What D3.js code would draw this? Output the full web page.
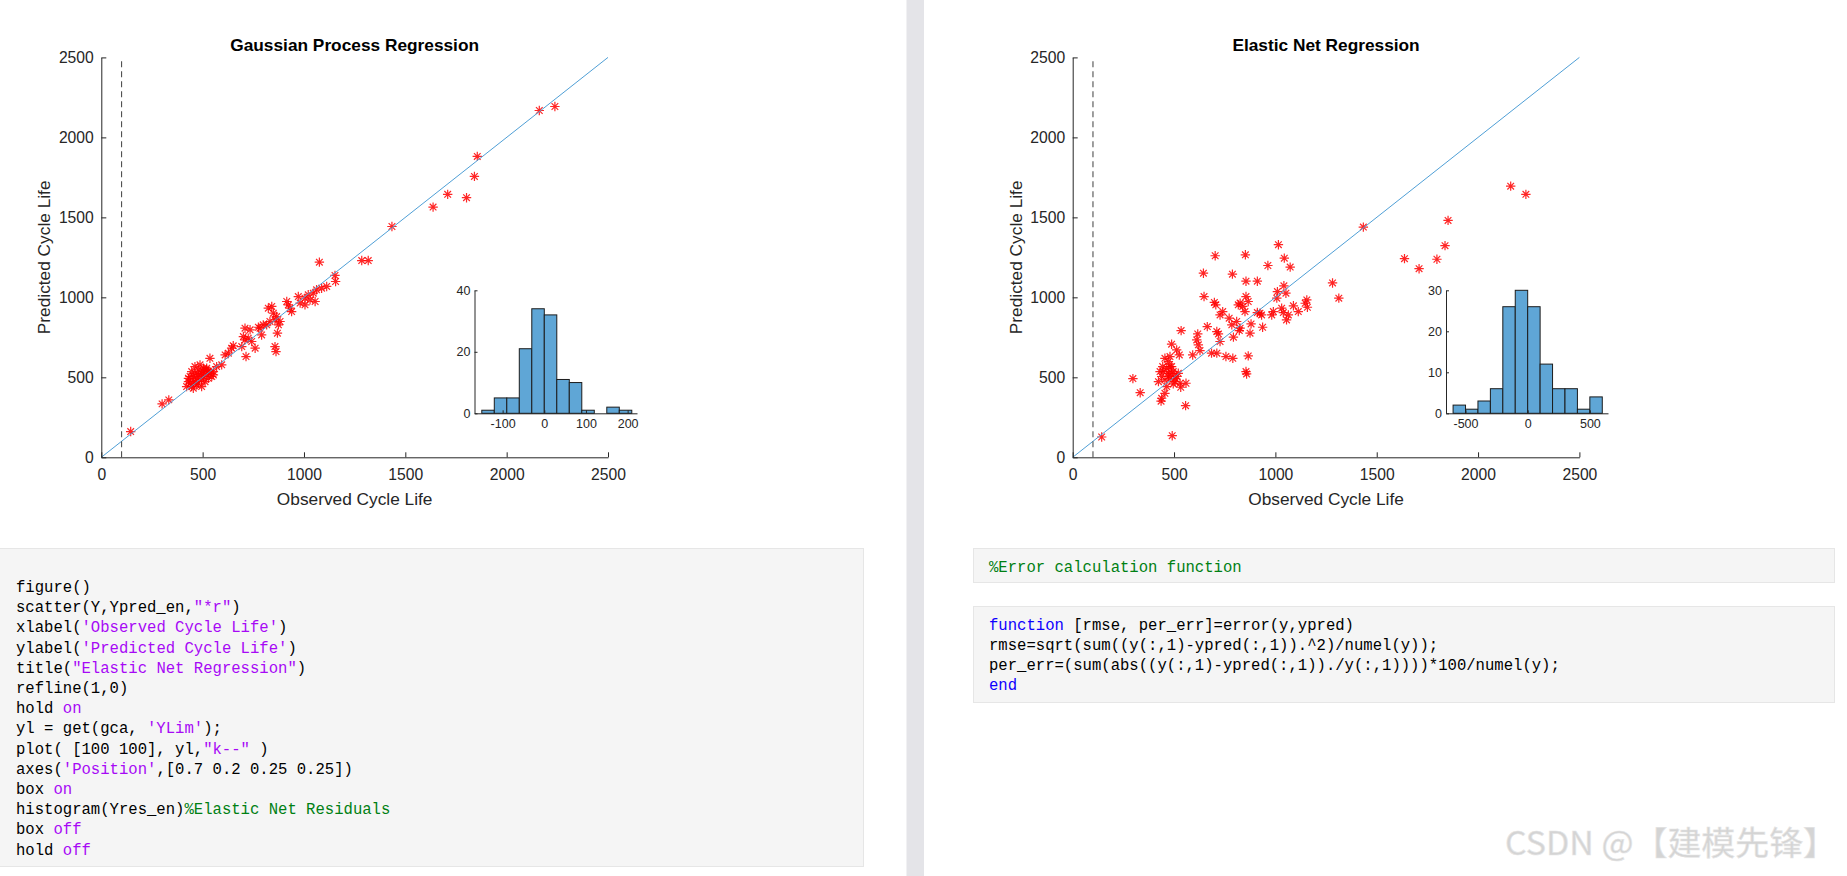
<!DOCTYPE html>
<html><head><meta charset="utf-8">
<script src="https://cdn.jsdelivr.net/npm/d3@7/dist/d3.min.js"></script>
<style>
html,body{margin:0;padding:0;background:#fff;}
svg{display:block;}
.code{white-space:pre;}
</style></head>
<body>
<svg id="chart" width="1847" height="876"></svg>
<script>
// ---------------- DATA ----------------
const axisTicks = [0, 500, 1000, 1500, 2000, 2500];
const gprTitle = "Gaussian Process Regression";
const enTitle = "Elastic Net Regression";
const xLabel = "Observed Cycle Life";
const yLabel = "Predicted Cycle Life";

// Gaussian Process Regression: [observed, predicted]
const gprPoints = [
  [145,161],[300,334],[333,359],[1434,1443],[1637,1564],[1709,1644],[1802,1623],[1841,1756],[1855,1881],
  [2161,2168],[2238,2193],[1076,1220],[1285,1230],[1317,1230],
  [1153,1137],[1156,1099],[1112,1068],[1062,1047],[1046,1026],[1021,1016],[1005,995],[1030,984],[1055,974],
  [1005,953],[981,964],[972,1005],[1087,1057],[915,974],[923,953],[939,911],[931,932],[824,932],[841,943],
  [849,901],[865,880],[882,849],[857,859],[874,828],[869,776],[857,692],[862,661],[832,849],[816,828],
  [799,828],[783,807],[775,813],[791,765],[734,797],[709,807],[701,755],[709,734],[725,745],[742,724],
  [759,682],[714,630],[693,692],[651,697],[643,682],[627,651],[611,640],[594,578],[536,619],[569,567],
  [553,536],[520,557],
  [438,505],[430,473],[446,442],[454,473],[462,525],[471,494],[479,546],[479,463],[487,515],[495,484],
  [504,536],[504,505],[512,473],[520,515],[528,494],[536,525],[462,567],[487,578],[438,463],[421,442],
  [454,432],[471,452],[495,525],[446,536],[504,557],[520,546],[545,505],[553,515],[479,515],[454,505],
  [430,494],[495,442],[512,546],[528,536],[462,473]
];

// Elastic Net Regression: [observed, predicted]
const enPoints = [
  [143,127],[491,135],[297,492],[333,404],[557,323],[436,351],[1434,1439],[1637,1242],[1709,1179],
  [1797,1238],[1837,1323],[1852,1481],[2161,1695],[2236,1644],[1282,1090],[1313,995],
  [1015,1329],[1044,1245],[1073,1189],[963,1199],[852,1266],[703,1260],[645,1151],[788,1145],[855,1101],
  [911,1101],[1042,1072],[1010,1036],[1052,1026],[1007,995],[648,1005],[699,968],[706,953],[826,964],
  [855,1005],[866,974],[839,943],[850,911],[817,953],[740,911],[727,890],[772,870],[809,849],[785,828],
  [924,901],[932,890],[911,905],[990,911],[982,890],[1031,932],[1039,905],[1064,890],[1089,947],[1113,911],
  [1155,984],[1147,963],[1158,938],[1055,859],[880,834],[937,813],[826,807],[875,776],[822,792],[793,751],
  [664,817],[711,786],[719,771],[727,724],[617,771],[612,734],[620,703],[535,792],[488,707],[513,671],
  [526,640],[592,640],[628,667],[685,651],[711,651],[756,630],[790,619],[866,634],[855,536],[858,521],
  [455,619],[472,598],[480,630],[444,567],[464,557],[488,567],[439,505],[472,525],[496,536],[455,484],
  [480,494],[423,473],[505,494],[521,525],[530,463],[533,438],[559,463],[496,459],[464,442],[455,400],
  [439,369],[505,473],[480,567],[472,505],[513,505],[447,536],[488,525],[431,536]
];

// Residual histograms (bin edges and counts)
const gprBinEdges = [-150,-120,-90,-60,-30,0,30,60,90,120,150,180,210];
const gprCounts   = [1,5,5,21,34,32,11,10,1,0,2,1];
const gprHistXTicks = [-100,0,100,200];
const gprHistYTicks = [0,20,40];

const enBinEdges = [-600,-500,-400,-300,-200,-100,0,100,200,300,400,500,600];
const enCounts   = [2,1,3,6,26,30,26,12,6,6,1,4];
const enHistXTicks = [-500,0,500];
const enHistYTicks = [0,10,20,30];

// Code text: lines of [text, kind]
const leftCode = [
  [["figure()","n"]],
  [["scatter(Y,Ypred_en,","n"],["\"*r\"","s"],[")","n"]],
  [["xlabel(","n"],["'Observed Cycle Life'","s"],[")","n"]],
  [["ylabel(","n"],["'Predicted Cycle Life'","s"],[")","n"]],
  [["title(","n"],["\"Elastic Net Regression\"","s"],[")","n"]],
  [["refline(1,0)","n"]],
  [["hold ","n"],["on","s"]],
  [["yl = get(gca, ","n"],["'YLim'","s"],[");","n"]],
  [["plot( [100 100], yl,","n"],["\"k--\"","s"],[" )","n"]],
  [["axes(","n"],["'Position'","s"],[",[0.7 0.2 0.25 0.25])","n"]],
  [["box ","n"],["on","s"]],
  [["histogram(Yres_en)","n"],["%Elastic Net Residuals","c"]],
  [["box ","n"],["off","s"]],
  [["hold ","n"],["off","s"]]
];
const commentCode = [
  [["%Error calculation function","c"]]
];
const funcCode = [
  [["function","k"],[" [rmse, per_err]=error(y,ypred)","n"]],
  [["rmse=sqrt(sum((y(:,1)-ypred(:,1)).^2)/numel(y));","n"]],
  [["per_err=(sum(abs((y(:,1)-ypred(:,1))./y(:,1))))*100/numel(y);","n"]],
  [["end","k"]]
];
const watermark = "CSDN @【建模先锋】";

// ---------------- DRAW ----------------
const svg = d3.select("#chart");
const FONT = "'Liberation Sans', Arial, Helvetica, sans-serif";
const AXC = "#262626";
const kindColor = {n:"#000000", s:"#a709f5", c:"#008013", k:"#0e00ff"};

// page decorations
svg.append("rect").attr("x",906.5).attr("y",0).attr("width",17.5).attr("height",876).attr("fill","#e4e4e8");

function codeBox(x,y,w,h){
  svg.append("rect").attr("x",x+0.5).attr("y",y+0.5).attr("width",w).attr("height",h)
    .attr("fill","#f5f5f5").attr("stroke","#e6e6e6").attr("stroke-width",1);
}
function codeLines(lines,x,y0,dy){
  lines.forEach((segs,i)=>{
    const t = svg.append("text").attr("class","code").attr("x",x).attr("y",y0+i*dy)
      .attr("font-family","'Liberation Mono','DejaVu Sans Mono',monospace").attr("font-size",15.6);
    segs.forEach(s=>t.append("tspan").text(s[0]).attr("fill",kindColor[s[1]]));
  });
}
codeBox(-1,548,864,318);
codeLines(leftCode,16,592,20.2);
codeBox(973,548,861,34);
codeLines(commentCode,989,571.5,20.3);
codeBox(973,606,861,96);
codeLines(funcCode,989,629.5,20.3);

svg.append("text").attr("x",1505).attr("y",855).text(watermark)
  .attr("font-family","'Noto Sans CJK SC','Noto Sans',sans-serif").attr("font-size",33)
  .attr("textLength",332).attr("lengthAdjust","spacingAndGlyphs")
  .attr("fill","#d4d4d4").attr("stroke","#e6e6e6").attr("stroke-width",0.6);

function starPath(r){
  const a = r*0.7071;
  return `M${-r},0H${r}M0,${-r}V${r}M${-a},${-a}L${a},${a}M${-a},${a}L${a},${-a}`;
}

function drawPanel(cfg){
  const x = d3.scaleLinear().domain([0,2500]).range([cfg.x0, cfg.x1]);
  const y = d3.scaleLinear().domain([0,2500]).range([457.3, 57.4]);
  const g = svg.append("g");

  // points
  g.selectAll("path.pt").data(cfg.points).enter().append("path")
    .attr("class","pt")
    .attr("transform",d=>`translate(${x(d[0])},${y(d[1])})`)
    .attr("d",starPath(4.7))
    .attr("fill","none").attr("stroke","#ff0000").attr("stroke-width",1.2).attr("stroke-opacity",0.85);

  // reference line y = x
  g.append("line").attr("x1",x(0)).attr("y1",y(0)).attr("x2",x(2500)).attr("y2",y(2500))
    .attr("stroke","#4f9fd6").attr("stroke-width",1);

  // dashed threshold
  g.append("line").attr("x1",x(100)).attr("x2",x(100)).attr("y1",y(0)).attr("y2",y(2500))
    .attr("stroke","#505050").attr("stroke-width",1.1).attr("stroke-dasharray","6,4");

  // axes
  const fmt = d3.format("d");
  const xa = g.append("g").attr("transform",`translate(0,${y(0)})`)
    .call(d3.axisBottom(x).tickValues(axisTicks).tickFormat(fmt).tickSizeInner(-5).tickSizeOuter(0).tickPadding(12));
  const ya = g.append("g").attr("transform",`translate(${x(0)},0)`)
    .call(d3.axisLeft(y).tickValues(axisTicks).tickFormat(fmt).tickSizeInner(-5).tickSizeOuter(0).tickPadding(7.5));
  [xa,ya].forEach(a=>{
    a.selectAll(".domain").attr("stroke",AXC).attr("stroke-width",1);
    a.selectAll(".tick line").attr("stroke",AXC);
    a.selectAll("text").attr("fill",AXC).attr("font-family",FONT).attr("font-size",15.7);
  });

  // labels
  g.append("text").attr("x",(cfg.x0+cfg.x1)/2).attr("y",51).attr("text-anchor","middle")
    .attr("font-family",FONT).attr("font-size",17.3).attr("font-weight","bold").attr("fill","#000").text(cfg.title);
  g.append("text").attr("x",(cfg.x0+cfg.x1)/2).attr("y",504.5).attr("text-anchor","middle")
    .attr("font-family",FONT).attr("font-size",17.3).attr("fill",AXC).text(xLabel);
  g.append("text").attr("transform",`translate(${cfg.x0-51},${(457.3+57.4)/2}) rotate(-90)`)
    .attr("text-anchor","middle").attr("font-family",FONT).attr("font-size",17.3).attr("fill",AXC).text(yLabel);

  // inset histogram
  const h = cfg.hist;
  const hx = d3.scaleLinear().domain(h.xdom).range([h.left,h.right]);
  const hy = d3.scaleLinear().domain(h.ydom).range([413.3, 290.3]);
  const bins = h.counts.map((c,i)=>({x0:h.edges[i], x1:h.edges[i+1], c}));
  const hg = svg.append("g");
  hg.selectAll("rect").data(bins.filter(b=>b.c>0)).enter().append("rect")
    .attr("x",b=>hx(b.x0)).attr("width",b=>hx(b.x1)-hx(b.x0))
    .attr("y",b=>hy(b.c)).attr("height",b=>hy(0)-hy(b.c))
    .attr("fill","#5fa6d6").attr("stroke","#1c1c1c").attr("stroke-width",1);
  const hxa = hg.append("g").attr("transform",`translate(0,${hy(0)})`)
    .call(d3.axisBottom(hx).tickValues(h.xticks).tickSizeInner(-3).tickSizeOuter(0).tickPadding(6)
      .tickFormat(d=>String(d)));
  const hya = hg.append("g").attr("transform",`translate(${h.left},0)`)
    .call(d3.axisLeft(hy).tickValues(h.yticks).tickSizeInner(-3).tickSizeOuter(0).tickPadding(4));
  [hxa,hya].forEach(a=>{
    a.selectAll(".domain").attr("stroke",AXC).attr("stroke-width",1);
    a.selectAll(".tick line").attr("stroke",AXC);
    a.selectAll("text").attr("fill",AXC).attr("font-family",FONT).attr("font-size",12.5);
  });
}

drawPanel({x0:101.3, x1:608, title:gprTitle, points:gprPoints,
  hist:{left:474.5, right:637, xdom:[-167.5,222.5], ydom:[0,40], edges:gprBinEdges, counts:gprCounts,
        xticks:gprHistXTicks, yticks:gprHistYTicks}});
drawPanel({x0:1072.7, x1:1579.4, title:enTitle, points:enPoints,
  hist:{left:1446, right:1608, xdom:[-657,646], ydom:[0,30], edges:enBinEdges, counts:enCounts,
        xticks:enHistXTicks, yticks:enHistYTicks}});
</script>
</body></html>
